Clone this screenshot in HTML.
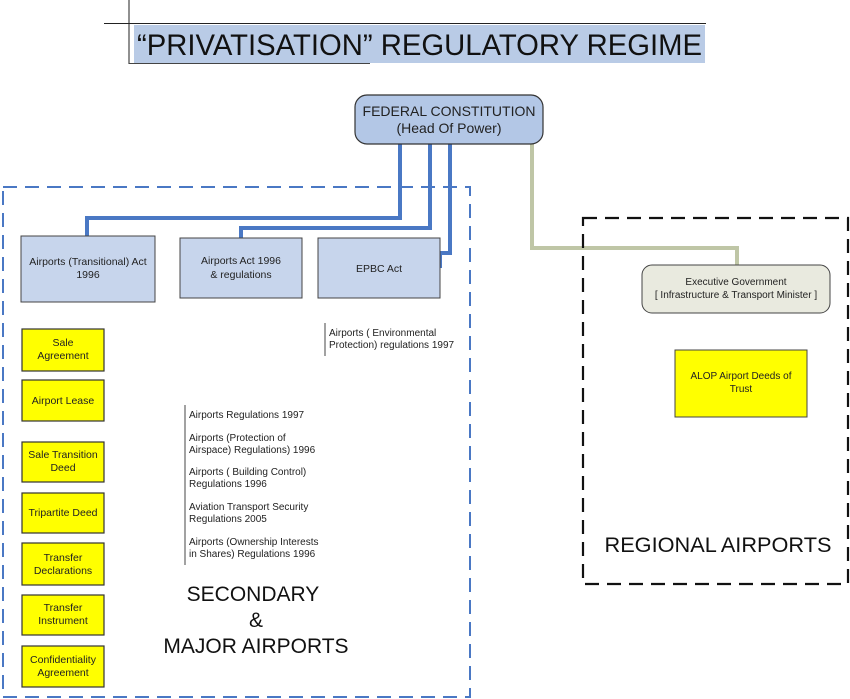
<!DOCTYPE html>
<html><head><meta charset="utf-8"><style>
html,body{margin:0;padding:0;background:#fff;}
svg{display:block;font-family:"Liberation Sans",Arial,sans-serif;}
</style></head><body>
<svg width="850" height="699" viewBox="0 0 850 699" xmlns="http://www.w3.org/2000/svg">
<rect x="134" y="25" width="571" height="38" fill="#b9cbe6"/>
<line x1="129" y1="0" x2="129" y2="64" stroke="#222" stroke-width="1"/>
<line x1="104" y1="23.5" x2="706" y2="23.5" stroke="#222" stroke-width="1"/>
<line x1="129" y1="63.5" x2="370" y2="63.5" stroke="#444" stroke-width="1"/>
<text x="137" y="55" font-size="30" fill="#111" textLength="565" lengthAdjust="spacingAndGlyphs">“PRIVATISATION” REGULATORY REGIME</text>

<g fill="none" stroke="#4a78c4" stroke-width="4">
<polyline points="400,144 400,218 87,218 87,237"/>
<polyline points="430,144 430,228 241,228 241,239"/>
<polyline points="450,144 450,253 440,253 440,268"/>
</g>
<polyline points="532,144 532,248 737,248 737,265" fill="none" stroke="#bfc6a6" stroke-width="4"/>

<rect x="355" y="95" width="188" height="49" rx="12" fill="#b3c7e6" stroke="#333" stroke-width="1.2"/>
<text x="449" y="116" font-size="14" text-anchor="middle" fill="#222">FEDERAL CONSTITUTION</text>
<text x="449" y="133" font-size="14" text-anchor="middle" fill="#222">(Head Of Power)</text>

<rect x="3" y="187" width="467" height="510" fill="none" stroke="#4a78c4" stroke-width="2" stroke-dasharray="14,8"/>

<g fill="#c7d5ec" stroke="#444" stroke-width="1">
<rect x="21" y="236" width="134" height="66"/>
<rect x="180" y="238" width="122" height="60"/>
<rect x="318" y="238" width="122" height="60"/>
</g>
<g font-size="10.5" fill="#222" text-anchor="middle">
<text x="88" y="265">Airports (Transitional) Act</text>
<text x="88" y="278">1996</text>
<text x="241" y="264">Airports Act 1996</text>
<text x="241" y="278">&amp; regulations</text>
<text x="379" y="272">EPBC Act</text>
</g>

<line x1="325" y1="323" x2="325" y2="356" stroke="#444"/>
<g font-size="10" fill="#222">
<text x="329" y="336">Airports ( Environmental</text>
<text x="329" y="348">Protection) regulations 1997</text>
</g>

<line x1="185" y1="405" x2="185" y2="565" stroke="#444"/>
<g font-size="10" fill="#222">
<text x="189" y="418">Airports Regulations 1997</text>
<text x="189" y="441">Airports  (Protection of</text>
<text x="189" y="453">Airspace) Regulations) 1996</text>
<text x="189" y="475">Airports ( Building Control)</text>
<text x="189" y="487">Regulations 1996</text>
<text x="189" y="510">Aviation Transport Security</text>
<text x="189" y="522">Regulations 2005</text>
<text x="189" y="545">Airports (Ownership Interests</text>
<text x="189" y="557">in Shares) Regulations 1996</text>
</g>

<g fill="#ffff00" stroke="#333" stroke-width="1.2">
<rect x="22" y="329" width="82" height="42"/>
<rect x="22" y="380" width="82" height="41"/>
<rect x="22" y="442" width="82" height="40"/>
<rect x="22" y="493" width="82" height="40"/>
<rect x="22" y="543" width="82" height="42"/>
<rect x="22" y="595" width="82" height="40"/>
<rect x="22" y="646" width="82" height="41"/>
</g>
<g font-size="10.5" fill="#222" text-anchor="middle">
<text x="63" y="346">Sale</text><text x="63" y="359">Agreement</text>
<text x="63" y="404">Airport Lease</text>
<text x="63" y="458">Sale Transition</text><text x="63" y="471">Deed</text>
<text x="63" y="516">Tripartite Deed</text>
<text x="63" y="561">Transfer</text><text x="63" y="574">Declarations</text>
<text x="63" y="611">Transfer</text><text x="63" y="624">Instrument</text>
<text x="63" y="663">Confidentiality</text><text x="63" y="676">Agreement</text>
</g>

<g font-size="21" fill="#111" text-anchor="middle">
<text x="253" y="601">SECONDARY</text>
<text x="256" y="627">&amp;</text>
<text x="256" y="653">MAJOR AIRPORTS</text>
</g>

<rect x="583" y="218" width="265" height="366" fill="none" stroke="#111" stroke-width="2.2" stroke-dasharray="14,8"/>
<rect x="642" y="265" width="188" height="48" rx="10" fill="#e9eadf" stroke="#444" stroke-width="1"/>
<g font-size="10" fill="#222" text-anchor="middle">
<text x="736" y="285">Executive Government</text>
<text x="736" y="298">[ Infrastructure &amp; Transport Minister ]</text>
</g>
<rect x="675" y="350" width="132" height="67" fill="#ffff00" stroke="#444" stroke-width="1"/>
<g font-size="10" fill="#222" text-anchor="middle">
<text x="741" y="379">ALOP Airport Deeds of</text>
<text x="741" y="392">Trust</text>
</g>
<text x="718" y="552" font-size="21" fill="#111" text-anchor="middle" textLength="227" lengthAdjust="spacingAndGlyphs">REGIONAL AIRPORTS</text>
</svg>
</body></html>
